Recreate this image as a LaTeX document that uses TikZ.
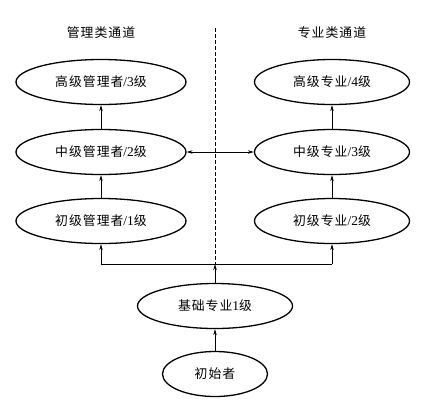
\documentclass[tikz,border=0pt]{standalone}
\usepackage{fontspec}
\setmainfont{Liberation Serif}
\newfontfamily\cjk{Noto Sans CJK SC}[Scale=0.95,LetterSpace=8]
\usetikzlibrary{shapes.geometric,arrows.meta}
\begin{document}
\begin{tikzpicture}[x=1pt,y=-1pt,
  el/.style={ellipse,draw,line width=1.3pt,minimum width=#1,minimum height=45pt,inner sep=0pt,font=\fontsize{13.5}{15}\selectfont},
  conn/.style={line width=0.8pt,-{Stealth[length=6pt,width=3.5pt]}},
  bidir/.style={line width=0.8pt,{Stealth[length=6pt,width=3.5pt]}-{Stealth[length=6pt,width=3.5pt]}},
  ttl/.style={font=\fontsize{13.5}{15}\selectfont}]
\useasboundingbox (0,0) rectangle (428,408);
\node[ttl] (t1) at (101,33) {\cjk 管理类通道};
\node[ttl] (t2) at (332,33) {\cjk 专业类通道};
\node[el=170pt] (m3) at (101,82) {\cjk 高级管理者\rm/3\cjk 级};
\node[el=170pt] (m2) at (101,152) {\cjk 中级管理者\rm/2\cjk 级};
\node[el=170pt] (m1) at (101,221) {\cjk 初级管理者\rm/1\cjk 级};
\node[el=155pt] (p4) at (332,82) {\cjk 高级专业\rm/4\cjk 级};
\node[el=155pt] (p3) at (332,152) {\cjk 中级专业\rm/3\cjk 级};
\node[el=155pt] (p2) at (332,221) {\cjk 初级专业\rm/2\cjk 级};
\node[el=155pt] (b) at (215,306) {\cjk 基础专业\rm1\cjk 级};
\node[el=105pt] (s) at (215,374) {\cjk 初始者};
\coordinate (dtop) at (215,28);
\coordinate (junc) at (215,264);
\draw[line width=1pt,dash pattern=on 4pt off 2pt] (dtop) -- (junc);
\draw[conn] (m2) -- (m3);
\draw[conn] (m1) -- (m2);
\draw[conn] (p3) -- (p4);
\draw[conn] (p2) -- (p3);
\draw[bidir] (m2) -- (p3);
\draw[conn] (s) -- (b);
\draw[conn] (b) -- (junc);
\draw[line width=0.8pt] (m1.south |- junc) -- (p2.south |- junc);
\draw[conn] (m1.south |- junc) -- (m1.south);
\draw[conn] (p2.south |- junc) -- (p2.south);
\end{tikzpicture}
\end{document}
